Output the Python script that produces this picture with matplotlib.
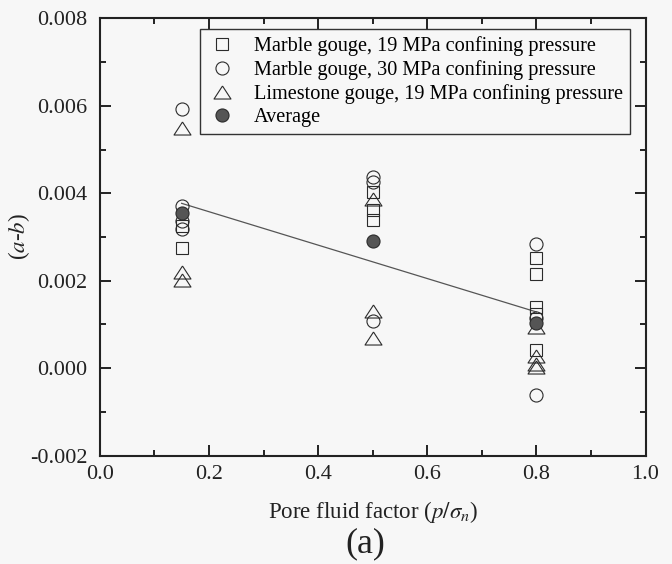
import numpy as np
import matplotlib
matplotlib.use('Agg')
import matplotlib.pyplot as plt
from matplotlib.ticker import MultipleLocator, FormatStrFormatter

plt.rcParams['font.family'] = ['Liberation Serif', 'DejaVu Serif']
plt.rcParams['mathtext.fontset'] = 'stix'

# pore fluid factor (p / sigma_n) and (a-b) values
marble19_x = [0.15, 0.15, 0.5, 0.5, 0.5, 0.8, 0.8, 0.8, 0.8, 0.8]
marble19_y = [0.00325, 0.00275, 0.00404, 0.00361, 0.00338,
              0.00252, 0.00215, 0.00140, 0.00125, 0.00042]

marble30_x = [0.15, 0.15, 0.15, 0.15, 0.5, 0.5, 0.5, 0.8, 0.8, 0.8]
marble30_y = [0.00593, 0.00372, 0.00336, 0.00318, 0.00437, 0.00425, 0.00107,
              0.00283, 0.00115, -0.00061]

lime19_x = [0.15, 0.15, 0.15, 0.5, 0.5, 0.5, 0.8, 0.8, 0.8, 0.8]
lime19_y = [0.00549, 0.00220, 0.00202, 0.00386, 0.00130, 0.00069,
            0.00095, 0.00028, 0.00010, 0.00003]

avg_x = [0.15, 0.5, 0.8]
avg_y = [0.00355, 0.00291, 0.00103]

labels = ['Marble gouge, 19 MPa confining pressure',
          'Marble gouge, 30 MPa confining pressure',
          'Limestone gouge, 19 MPa confining pressure',
          'Average']

bg = '#f7f7f7'
edge = '#2b2b2b'
tri = [(0, 1), (-1.3, -1), (1.3, -1), (0, 1)]

fig = plt.figure(figsize=(6.72, 5.64), dpi=100, facecolor=bg)
ax = fig.add_axes([0.1485, 0.192, 0.8121, 0.7755], facecolor=bg)

# linear fit through the averages
k, b = np.polyfit(avg_x, avg_y, 1)
xf = np.array([min(avg_x), max(avg_x)])
ax.plot(xf, k * xf + b, color='#555555', lw=0.9, zorder=2)

common = dict(linestyle='none', markerfacecolor='none', markeredgecolor=edge,
              markeredgewidth=0.8, zorder=3)
ax.plot(marble19_x, marble19_y, marker='s', markersize=8.9, label=labels[0], **common)
ax.plot(marble30_x, marble30_y, marker='o', markersize=9.4, label=labels[1], **common)
ax.plot(lime19_x, lime19_y, marker=tri, markersize=12.2, label=labels[2], **common)
ax.plot(avg_x, avg_y, linestyle='none', marker='o', markersize=9.4,
        markerfacecolor='#555555', markeredgecolor=edge, markeredgewidth=0.8,
        label=labels[3], zorder=4)

ax.set_xlim(0.0, 1.0)
ax.set_ylim(-0.002, 0.008)
ax.xaxis.set_major_locator(MultipleLocator(0.2))
ax.xaxis.set_minor_locator(MultipleLocator(0.1))
ax.yaxis.set_major_locator(MultipleLocator(0.002))
ax.yaxis.set_minor_locator(MultipleLocator(0.001))
ax.xaxis.set_major_formatter(FormatStrFormatter('%.1f'))
ax.yaxis.set_major_formatter(FormatStrFormatter('%.3f'))

ax.tick_params(which='both', direction='in', top=True, right=True,
               width=1.4, color='#222222', labelsize=16, labelcolor='#222222')
ax.tick_params(which='major', length=8)
ax.tick_params(which='minor', length=4.5)
ax.tick_params(axis='y', pad=9)
ax.tick_params(axis='x', pad=7)
for s in ax.spines.values():
    s.set_linewidth(1.5)
    s.set_color('#222222')

ax.set_xlabel(r'Pore fluid factor ($p/\sigma_n$)', fontsize=16.5, color='#222222')
ax.set_ylabel(r'($a$-$b$)', fontsize=16.5, color='#222222')
ax.xaxis.set_label_coords(0.5, -0.1)
ax.yaxis.set_label_coords(-0.125, 0.5)

leg = ax.legend(loc='upper right', bbox_to_anchor=(0.9716, 0.9755),
                borderaxespad=0, fontsize=14.6, frameon=True, fancybox=False,
                edgecolor='#333333', facecolor=bg, framealpha=1,
                labelspacing=0.2, handlelength=1.5, handletextpad=0.8,
                borderpad=0.35, markerscale=1.0)
leg.get_frame().set_linewidth(1.0)

fig.text(0.543, 0.036, '(a)', fontsize=26, ha='center', va='center', color='#222222')

fig.savefig('out.png', dpi=100, facecolor=bg)
